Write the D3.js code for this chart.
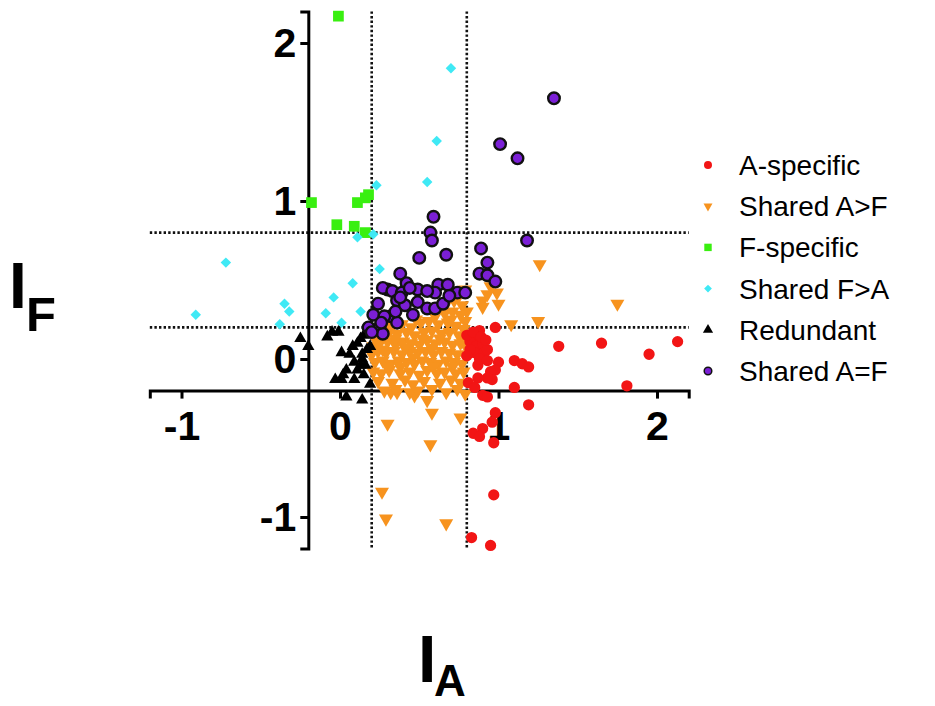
<!DOCTYPE html>
<html>
<head>
<meta charset="utf-8">
<script src="https://cdn.jsdelivr.net/npm/d3@7"></script>
<style>
  body { margin: 0; background: #fff; }
  text { font-family: "Liberation Sans", Arial, sans-serif; }
</style>
</head>
<body>
<div class="chart"></div>
<script>
// data: [I_A, I_F]
var aSpecific = [
  [1.38,0.08],[1.65,0.10],[1.95,0.03],[2.13,0.11],[1.81,-0.17],[1.19,-0.29],[1.10,-0.18],
  [1.10,-0.01],[1.15,-0.03],[1.19,-0.05],[0.98,0.20],
  [0.88,0.18],[0.85,0.13],[0.82,0.11],[0.86,0.08],[0.90,0.10],[0.85,0.04],[0.91,0.04],
  [0.93,0.06],[0.82,0.06],[0.87,-0.04],[1.00,-0.02],[0.98,-0.07],[0.95,-0.08],[0.96,-0.13],
  [0.93,-0.12],[0.87,-0.12],[0.81,-0.15],[0.85,-0.18],[0.90,-0.23],[0.93,-0.24],
  [0.80,0.15],[0.84,0.17],[0.89,0.14],[0.92,0.12],[0.80,0.02],[0.88,0.00],[0.93,-0.01],
  [0.98,-0.34],[0.96,-0.40],[0.90,-0.44],[0.84,-0.47],[0.88,-0.49],[0.97,-0.53],
  [0.97,-0.86],[0.83,-1.13],[0.95,-1.18]
];
var sharedAF = [
  [1.26,0.60],[1.75,0.35],[1.25,0.24],[1.08,0.22],[0.99,0.42],[1.00,0.35],[0.95,0.46],
  [0.90,0.37],[0.90,0.33],[0.93,0.41],
  [0.76,-0.37],[0.30,-0.41],[0.57,-0.54],[0.58,-0.34],[0.47,-0.23],[0.55,-0.26],[0.32,-0.21],
  [0.36,-0.21],[0.265,-0.84],[0.29,-1.01],[0.67,-1.04],
  [0.67,0.35],[0.72,0.37],[0.77,0.34],[0.80,0.30],[0.75,0.40],[0.79,0.44],
  [0.60,0.27],[0.66,0.29],[0.71,0.30],[0.76,0.28],[0.79,0.24],
  [0.33,0.21],[0.39,0.22],[0.45,0.20],[0.51,0.23],[0.56,0.24],[0.62,0.22],[0.68,0.23],[0.73,0.21],[0.78,0.19],
  [0.22,0.13],[0.27,0.15],[0.31,0.17],[0.36,0.16],[0.42,0.17],[0.47,0.15],[0.53,0.17],[0.58,0.18],
  [0.64,0.16],[0.69,0.17],[0.75,0.15],[0.79,0.13],
  [0.21,0.08],[0.25,0.10],[0.30,0.11],[0.35,0.09],[0.40,0.11],[0.45,0.10],[0.50,0.09],[0.55,0.12],
  [0.60,0.10],[0.66,0.11],[0.71,0.09],[0.76,0.10],[0.80,0.07],
  [0.20,0.03],[0.24,0.05],[0.29,0.04],[0.34,0.05],[0.39,0.03],[0.44,0.05],[0.49,0.04],[0.54,0.05],
  [0.59,0.03],[0.64,0.05],[0.69,0.04],[0.74,0.03],[0.79,0.02],
  [0.22,-0.02],[0.27,-0.01],[0.32,-0.03],[0.37,-0.01],[0.42,-0.02],[0.47,-0.03],[0.52,-0.01],
  [0.57,-0.02],[0.62,-0.03],[0.67,-0.01],[0.72,-0.02],[0.77,-0.03],
  [0.21,-0.08],[0.26,-0.09],[0.31,-0.07],[0.38,-0.09],[0.44,-0.08],[0.50,-0.10],[0.55,-0.07],
  [0.61,-0.09],[0.66,-0.08],[0.73,-0.09],[0.78,-0.08],
  [0.24,-0.14],[0.33,-0.15],[0.41,-0.13],[0.46,-0.16],[0.53,-0.14],[0.63,-0.15],[0.70,-0.13],[0.76,-0.15],
  [0.28,-0.20],[0.35,-0.19],[0.44,-0.21],[0.49,-0.20],[0.58,-0.19],[0.67,-0.21],[0.74,-0.19],[0.79,-0.22],
  [0.29,0.19],[0.48,0.25],[0.41,0.07],[0.58,0.07],[0.35,0.13],[0.27,0.06],[0.63,0.13],[0.52,0.13],
  [0.70,0.25],[0.46,0.01],[0.30,-0.05],[0.59,-0.05],[0.71,-0.05],[0.38,-0.05]
];
var fSpecific = [
  [-0.01,2.17],[-0.18,0.99],[0.11,0.99],[0.16,1.02],[0.18,1.04],[-0.02,0.85],[0.09,0.84],[0.16,0.80]
];
var sharedFA = [
  [0.70,1.84],[0.61,1.38],[0.55,1.12],[0.23,1.10],[-0.72,0.61],[-0.91,0.28],[-0.35,0.35],
  [-0.32,0.30],[-0.38,0.22],[-0.04,0.39],[0.08,0.48],[-0.09,0.29],[0.01,0.23],[0.13,0.30],
  [0.11,0.77],[0.21,0.79],[0.25,0.57]
];
var redundant = [
  [-0.25,0.13],[-0.20,0.08],[-0.08,0.14],[-0.05,0.17],[-0.01,0.17],[0.01,0.04],[0.06,0.03],
  [0.08,0.08],[0.11,0.10],[0.13,0.13],[0.15,0.15],[0.09,-0.02],[0.14,0.03],[0.04,-0.07],
  [0.11,-0.07],[0.16,-0.04],[-0.03,-0.13],[0.01,-0.13],[0.09,-0.13],[0.19,-0.16],[0.04,-0.24],
  [0.14,-0.26],[0.17,0.06],[0.13,-0.04],[0.15,-0.10],[0.02,-0.10],[0.19,0.08],[0.14,0.00]
];
var sharedEq = [
  [1.35,1.65],[1.01,1.36],[1.12,1.27],[0.59,0.90],[0.57,0.80],[0.58,0.75],[0.50,0.64],[0.67,0.66],
  [0.89,0.70],[0.93,0.61],[0.88,0.54],[0.93,0.53],[0.98,0.49],[1.18,0.75],[0.38,0.54],[0.42,0.48],
  [0.30,0.44],[0.27,0.45],[0.33,0.43],[0.39,0.42],[0.49,0.44],[0.44,0.45],[0.62,0.47],[0.68,0.47],
  [0.60,0.42],[0.74,0.42],[0.79,0.42],[0.24,0.35],[0.36,0.37],[0.41,0.34],[0.49,0.36],[0.55,0.32],
  [0.60,0.32],[0.65,0.35],[0.21,0.28],[0.32,0.27],[0.36,0.23],[0.46,0.28],[0.18,0.20],[0.25,0.20],
  [0.27,0.16],[0.38,0.39],[0.35,0.30],[0.28,0.27],[0.26,0.23],[0.20,0.17],[0.55,0.43],[0.69,0.40]
];

var seriesNames = ["A-specific", "Shared A>F", "F-specific", "Shared F>A", "Redundant", "Shared A=F"];
var xTicks = [-1, 0, 1, 2];
var yTicks = [-1, 0, 1, 2];
var cutoffs = [0.2, 0.8];

var svgWidth = 935, svgHeight = 706;
var svg = d3.select(".chart").append("svg")
  .attr("width", svgWidth)
  .attr("height", svgHeight);

var x = d3.scaleLinear().domain([-1.2, 2.2]).range([149.8, 688.7]);
var y = d3.scaleLinear().domain([-1.2, 2.2]).range([548.6, 11.4]);

// dotted threshold lines
cutoffs.forEach(function(c) {
  svg.append("line")
    .attr("x1", x(c)).attr("x2", x(c))
    .attr("y1", y(2.2)).attr("y2", y(-1.2))
    .attr("stroke", "#111").attr("stroke-width", 2.6)
    .attr("stroke-dasharray", "2.4,2.2");
  svg.append("line")
    .attr("x1", x(-1.2)).attr("x2", x(2.2))
    .attr("y1", y(c)).attr("y2", y(c))
    .attr("stroke", "#111").attr("stroke-width", 2.6)
    .attr("stroke-dasharray", "2.4,2.2");
});

// axes crossing at -0.2 / -0.2
var xAxis = d3.axisBottom(x).tickValues(xTicks).tickSize(8).tickPadding(12);
var yAxis = d3.axisLeft(y).tickValues(yTicks).tickSize(8).tickPadding(4);

var gx = svg.append("g")
  .attr("transform", `translate(0, ${y(-0.2)})`)
  .call(xAxis);
var gy = svg.append("g")
  .attr("transform", `translate(${x(-0.2)}, 0)`)
  .call(yAxis);

[gx, gy].forEach(function(g) {
  g.select(".domain").attr("stroke", "#000").attr("stroke-width", 3);
  g.selectAll(".tick line").attr("stroke", "#000").attr("stroke-width", 3);
  g.selectAll(".tick text")
    .attr("fill", "#000")
    .style("font-family", '"Liberation Sans", Arial, sans-serif')
    .style("font-size", "41px")
    .style("font-weight", "bold")
    .text(d => String(d));
});

// marks
var styles = [
  {data: sharedAF, type: d3.symbolTriangle, size: 85, fill: "#f7931e", stroke: "none", rot: 180},
  {data: aSpecific, type: d3.symbolCircle, size: 100, fill: "#f21515", stroke: "none", rot: 0},
  {data: fSpecific, type: d3.symbolSquare, size: 115, fill: "#39ef10", stroke: "none", rot: 0},
  {data: sharedFA, type: d3.symbolSquare, size: 55, fill: "#3fe9f5", stroke: "none", rot: 45},
  {data: redundant, type: d3.symbolTriangle, size: 65, fill: "#000", stroke: "none", rot: 0},
  {data: sharedEq, type: d3.symbolCircle, size: 105, fill: "#7b1fd6", stroke: "#111", rot: 0}
];

styles.forEach(function(s, i) {
  svg.append("g").attr("class", "series" + i)
    .selectAll("path")
    .data(s.data)
    .enter()
    .append("path")
    .attr("d", d3.symbol().type(s.type).size(s.size))
    .attr("transform", d => `translate(${x(d[0])}, ${y(d[1])}) rotate(${s.rot})`)
    .attr("fill", s.fill)
    .attr("stroke", s.stroke)
    .attr("stroke-width", s.stroke === "none" ? 0 : 2.4);
});

// legend, in the original order
var legendOrder = [1, 0, 2, 3, 4, 5];
var legendSizes = [50, 35, 55, 30, 45, 45];
var legend = svg.append("g").attr("transform", "translate(708, 165)");
seriesNames.forEach(function(name, i) {
  var s = styles[legendOrder[i]];
  var row = legend.append("g").attr("transform", `translate(0, ${i * 41.2})`);
  row.append("path")
    .attr("d", d3.symbol().type(s.type).size(legendSizes[i]))
    .attr("transform", `rotate(${s.rot})`)
    .attr("fill", s.fill)
    .attr("stroke", s.stroke)
    .attr("stroke-width", s.stroke === "none" ? 0 : 1.5);
  row.append("text")
    .attr("x", 31)
    .attr("y", 10)
    .style("font-size", "28px")
    .attr("fill", "#000")
    .text(name);
});

// axis titles
var yTitle = svg.append("text").attr("x", 9).attr("y", 308).attr("font-weight", "bold");
yTitle.append("tspan").style("font-size", "64px").text("I");
yTitle.append("tspan").attr("x", 26).attr("y", 331).style("font-size", "49px").text("F");

var xTitle = svg.append("text").attr("x", 418).attr("y", 682).attr("font-weight", "bold");
xTitle.append("tspan").style("font-size", "66px").text("I");
xTitle.append("tspan").attr("x", 434).attr("y", 696).style("font-size", "44px").text("A");
</script>
</body>
</html>
